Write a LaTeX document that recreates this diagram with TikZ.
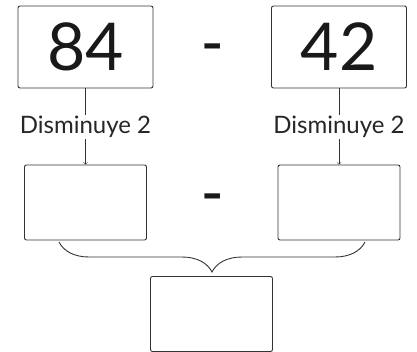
\documentclass[tikz,border=0pt]{standalone}
\usepackage{fontspec}
\setmainfont{Lato}
\usetikzlibrary{positioning,decorations.pathreplacing}

\begin{document}
\begin{tikzpicture}[x=1pt, y=-1pt]
    \tikzstyle{numbox} = [rectangle, rounded corners=2pt, draw=black!80, line width=0.9pt, minimum width=135pt, minimum height=82pt, inner sep=0pt, text=black!90, font=\fontsize{66}{66}\selectfont]
    \tikzstyle{blank} = [rectangle, rounded corners=2pt, draw=black!80, line width=0.9pt, minimum width=122pt, minimum height=75pt]
    \tikzstyle{steplabel} = [inner sep=1pt, text=black!85, font=\fontsize{24}{24}\selectfont]
    \tikzstyle{minus} = [inner sep=0pt, anchor=base, xscale=1.2, text=black!90, font=\fontsize{50}{50}\bfseries]

    \useasboundingbox (0,0) rectangle (417,352);

    % Numbers
    \node [numbox] (n84) at (85.5,47) {84};
    \node [numbox] (n42) at (339,47) {42};
    \node [minus] (subtop) at (212.5,62) {-};

    % Steps
    \node [steplabel] (lab84) at (85.5,127) {Disminuye 2};
    \node [steplabel] (lab42) at (339,127) {Disminuye 2};

    % Empty boxes
    \node [blank] (new84) at (85.5,202.5) {};
    \node [blank] (new42) at (339,202.5) {};
    \node [minus] (subbottom) at (212.5,212) {-};
    \node [blank] (result) at (211.5,314) {};

    % Connections
    \draw [black!80, line width=0.6pt] (n84) -- (lab84);
    \draw [black!80, line width=0.6pt] (n42) -- (lab42);
    \draw [->, black!80, line width=0.6pt] (lab84) -- (new84);
    \draw [->, black!80, line width=0.6pt] (lab42) -- (new42);

    % Brace
    \coordinate (braceL) at (59,242);
    \coordinate (braceR) at (365,242);
    \draw [decorate, decoration={brace, mirror, amplitude=30pt}, black!80, line width=0.9pt] (braceL) -- (braceR);
\end{tikzpicture}
\end{document}
